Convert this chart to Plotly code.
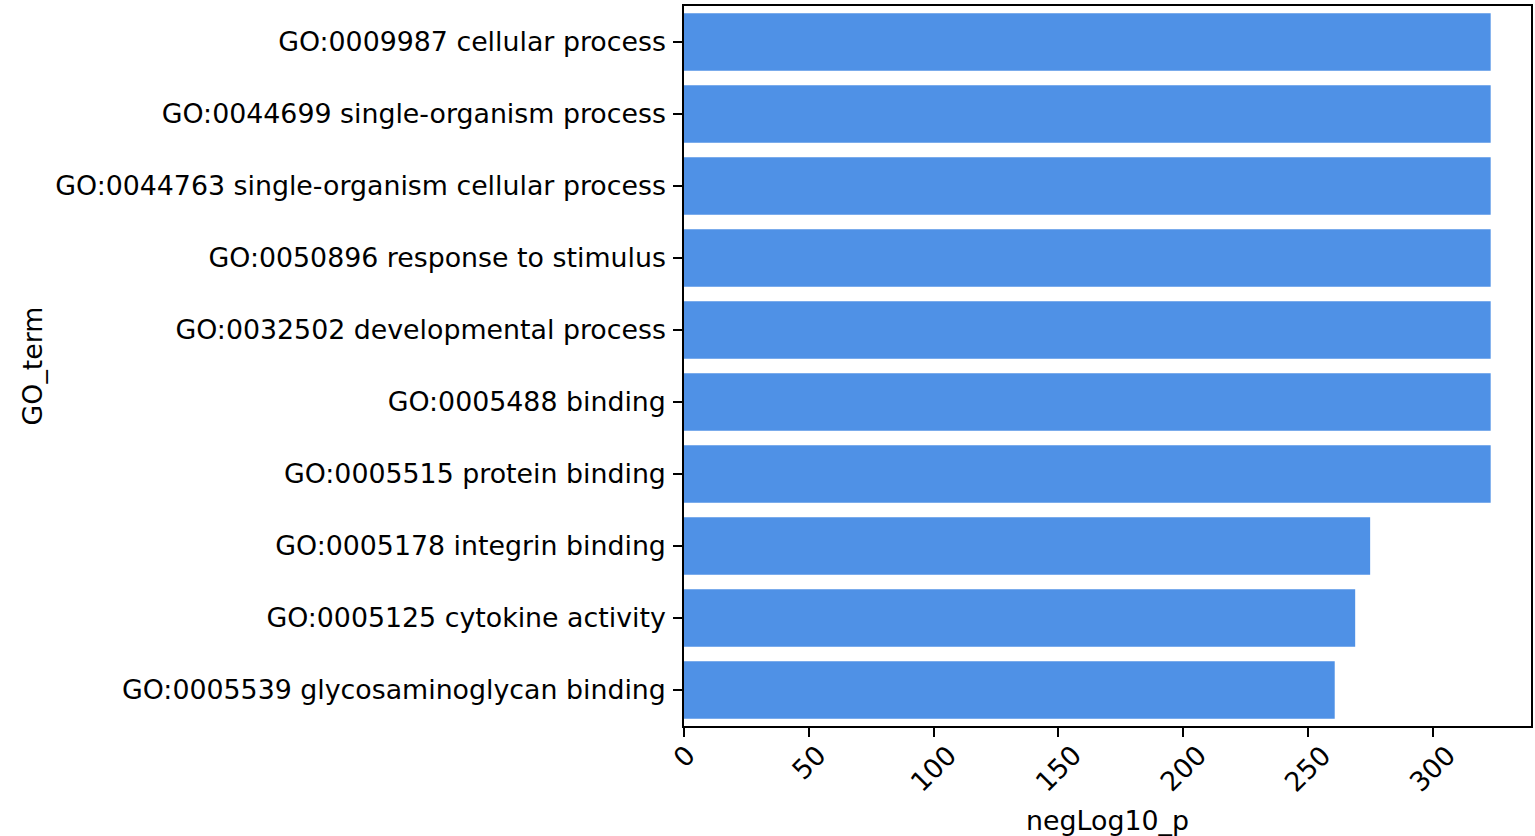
import plotly.graph_objects as go

go_terms = [
    "GO:0009987 cellular process",
    "GO:0044699 single-organism process",
    "GO:0044763 single-organism cellular process",
    "GO:0050896 response to stimulus",
    "GO:0032502 developmental process",
    "GO:0005488 binding",
    "GO:0005515 protein binding",
    "GO:0005178 integrin binding",
    "GO:0005125 cytokine activity",
    "GO:0005539 glycosaminoglycan binding",
]
neg_log10_p = [323.3, 323.3, 323.3, 323.3, 323.3, 323.3, 323.3, 275.0, 269.0, 260.8]
x_ticks = [0, 50, 100, 150, 200, 250, 300]

FONT = "DejaVu Sans"
FS = 26.8
BAR_COLOR = "#4f91e6"

fig = go.Figure()
fig.add_trace(go.Bar(
    x=neg_log10_p,
    y=go_terms,
    orientation="h",
    width=0.8,
    marker=dict(color=BAR_COLOR, line=dict(width=0)),
))

xmax = max(neg_log10_p) * 1.05

fig.update_layout(
    width=1535, height=836,
    margin=dict(l=684, r=2, t=6, b=110),
    paper_bgcolor="white", plot_bgcolor="white",
    font=dict(family=FONT, size=FS, color="black"),
    showlegend=False,
    xaxis=dict(
        range=[0, xmax],
        tickvals=x_ticks,
        showticklabels=False,
        ticks="outside", ticklen=9, tickwidth=1.5, tickcolor="black",
        showline=True, linecolor="black", linewidth=1.5, mirror=True,
        showgrid=False, zeroline=False,
        title=dict(text="negLog10_p", font=dict(size=FS), standoff=75),
    ),
    yaxis=dict(
        categoryorder="array", categoryarray=go_terms,
        range=[len(go_terms) - 0.5, -0.5],
        ticks="outside", ticklen=9, tickwidth=1.5, tickcolor="black",
        ticklabelstandoff=2,
        tickfont=dict(size=FS),
        showline=True, linecolor="black", linewidth=1.5, mirror=True,
        showgrid=False, zeroline=False,
        title=dict(text="GO_term", font=dict(size=FS), standoff=5),
    ),
)

for t in x_ticks:
    fig.add_annotation(
        x=t, xref="x", y=0, yref="paper",
        text=str(t), textangle=-45, showarrow=False,
        xanchor="center", yanchor="top", yshift=-11,
        font=dict(family=FONT, size=FS, color="black"),
    )

fig.write_html(
    "out.html",
    config={"displayModeBar": False},
    post_script="document.body.style.margin='0';",
)
